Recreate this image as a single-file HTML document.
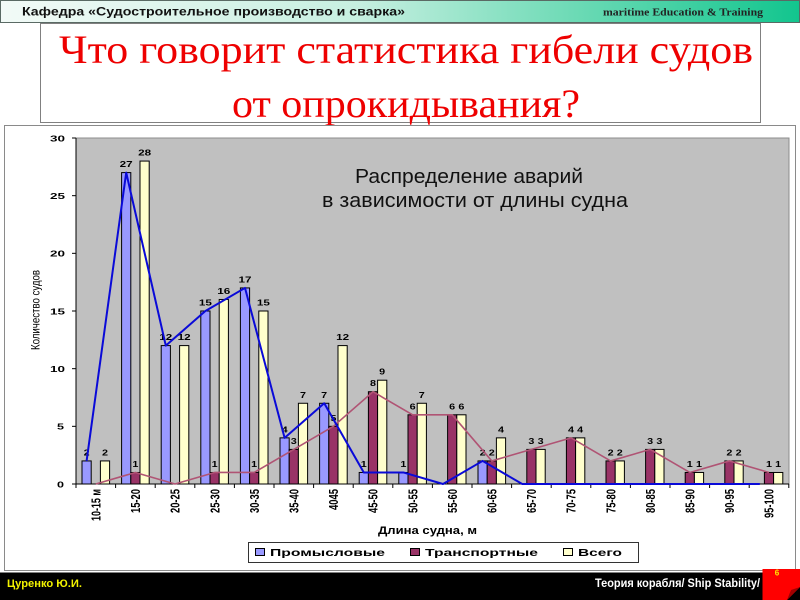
<!DOCTYPE html>
<html>
<head>
<meta charset="utf-8">
<style>
html,body{margin:0;padding:0;background:#fff;}
svg{display:block;}
.sans{font-family:"Liberation Sans","DejaVu Sans",sans-serif;}
.serif{font-family:"Liberation Serif","DejaVu Serif",serif;}
.dl{font-family:"Liberation Sans","DejaVu Sans",sans-serif;font-size:8px;font-weight:bold;fill:#000;}
.xl{font-family:"Liberation Sans","DejaVu Sans",sans-serif;font-size:13px;font-weight:bold;fill:#000;}
.yl{font-family:"Liberation Sans","DejaVu Sans",sans-serif;font-size:8.5px;font-weight:bold;fill:#000;}
</style>
</head>
<body>
<svg width="800" height="600" viewBox="0 0 800 600" xmlns="http://www.w3.org/2000/svg">
<defs>
<linearGradient id="hg" x1="0" y1="0" x2="1" y2="0">
<stop offset="0" stop-color="#f2faf7"/>
<stop offset="0.45" stop-color="#c6efe0"/>
<stop offset="0.72" stop-color="#6cdab5"/>
<stop offset="1" stop-color="#12c58e"/>
</linearGradient>
</defs>
<rect x="0" y="0" width="800" height="600" fill="#fff"/>

<!-- header -->
<rect x="0.5" y="0.5" width="799" height="22" fill="url(#hg)" stroke="#5a6a64" stroke-width="1"/>
<text class="sans" x="22" y="15.5" font-size="11.5" font-weight="bold" fill="#111" textLength="383" lengthAdjust="spacingAndGlyphs">Кафедра «Судостроительное производство и сварка»</text>
<text class="serif" x="603" y="15.5" font-size="11" font-weight="bold" fill="#222" textLength="160" lengthAdjust="spacingAndGlyphs">maritime Education &amp; Training</text>

<!-- title box -->
<rect x="40.5" y="23.5" width="720" height="99" fill="#fff" stroke="#808080" stroke-width="1"/>
<text class="serif" x="59" y="63" font-size="40" fill="#ee0000" textLength="694" lengthAdjust="spacingAndGlyphs">Что говорит статистика гибели судов</text>
<text class="serif" x="232" y="117" font-size="40" fill="#ee0000" textLength="348" lengthAdjust="spacingAndGlyphs">от опрокидывания?</text>

<!-- chart box -->
<rect x="4.5" y="125.5" width="791" height="445" fill="#fff" stroke="#8a8a8a" stroke-width="1"/>

<!-- plot area -->
<rect x="76" y="138" width="713" height="346" fill="#c0c0c0" stroke="#8c8c8c" stroke-width="1"/>

<!-- chart title -->
<text class="sans" x="355" y="183" font-size="20" fill="#111" textLength="228" lengthAdjust="spacingAndGlyphs">Распределение аварий</text>
<text class="sans" x="322" y="207" font-size="20" fill="#111" textLength="306" lengthAdjust="spacingAndGlyphs">в зависимости от длины судна</text>

<!-- blue bars -->
<g fill="#9999ff" stroke="#000" stroke-width="1">
<rect x="82" y="460.93" width="9.2" height="23.07"/>
<rect x="121.6" y="172.6" width="9.2" height="311.4"/>
<rect x="161.2" y="345.6" width="9.2" height="138.4"/>
<rect x="200.8" y="311" width="9.2" height="173"/>
<rect x="240.4" y="287.93" width="9.2" height="196.07"/>
<rect x="280" y="437.87" width="9.2" height="46.13"/>
<rect x="319.6" y="403.27" width="9.2" height="80.73"/>
<rect x="359.2" y="472.47" width="9.2" height="11.53"/>
<rect x="398.8" y="472.47" width="9.2" height="11.53"/>
<rect x="478" y="460.93" width="9.2" height="23.07"/>
</g>
<!-- maroon bars -->
<g fill="#993366" stroke="#000" stroke-width="1">
<rect x="130.8" y="472.47" width="9.2" height="11.53"/>
<rect x="210" y="472.47" width="9.2" height="11.53"/>
<rect x="249.6" y="472.47" width="9.2" height="11.53"/>
<rect x="289.2" y="449.4" width="9.2" height="34.6"/>
<rect x="328.8" y="426.33" width="9.2" height="57.67"/>
<rect x="368.4" y="391.73" width="9.2" height="92.27"/>
<rect x="408" y="414.8" width="9.2" height="69.2"/>
<rect x="447.6" y="414.8" width="9.2" height="69.2"/>
<rect x="487.2" y="460.93" width="9.2" height="23.07"/>
<rect x="526.8" y="449.4" width="9.2" height="34.6"/>
<rect x="566.4" y="437.87" width="9.2" height="46.13"/>
<rect x="606" y="460.93" width="9.2" height="23.07"/>
<rect x="645.6" y="449.4" width="9.2" height="34.6"/>
<rect x="685.2" y="472.47" width="9.2" height="11.53"/>
<rect x="724.8" y="460.93" width="9.2" height="23.07"/>
<rect x="764.4" y="472.47" width="9.2" height="11.53"/>
</g>
<!-- yellow bars -->
<g fill="#ffffcc" stroke="#000" stroke-width="1">
<rect x="100.4" y="460.93" width="9.2" height="23.07"/>
<rect x="140" y="161.07" width="9.2" height="322.93"/>
<rect x="179.6" y="345.6" width="9.2" height="138.4"/>
<rect x="219.2" y="299.47" width="9.2" height="184.53"/>
<rect x="258.8" y="311" width="9.2" height="173"/>
<rect x="298.4" y="403.27" width="9.2" height="80.73"/>
<rect x="338" y="345.6" width="9.2" height="138.4"/>
<rect x="377.6" y="380.2" width="9.2" height="103.8"/>
<rect x="417.2" y="403.27" width="9.2" height="80.73"/>
<rect x="456.8" y="414.8" width="9.2" height="69.2"/>
<rect x="496.4" y="437.87" width="9.2" height="46.13"/>
<rect x="536" y="449.4" width="9.2" height="34.6"/>
<rect x="575.6" y="437.87" width="9.2" height="46.13"/>
<rect x="615.2" y="460.93" width="9.2" height="23.07"/>
<rect x="654.8" y="449.4" width="9.2" height="34.6"/>
<rect x="694.4" y="472.47" width="9.2" height="11.53"/>
<rect x="734" y="460.93" width="9.2" height="23.07"/>
<rect x="773.6" y="472.47" width="9.2" height="11.53"/>
</g>

<!-- axes -->
<g stroke="#000" stroke-width="1" fill="none">
<line x1="76" y1="138" x2="76" y2="484"/>
<line x1="76" y1="484" x2="789" y2="484"/>
<line x1="72" y1="138" x2="76" y2="138"/>
<line x1="72" y1="195.67" x2="76" y2="195.67"/>
<line x1="72" y1="253.33" x2="76" y2="253.33"/>
<line x1="72" y1="311" x2="76" y2="311"/>
<line x1="72" y1="368.67" x2="76" y2="368.67"/>
<line x1="72" y1="426.33" x2="76" y2="426.33"/>
<line x1="72" y1="484" x2="76" y2="484"/>
<line x1="76" y1="484" x2="76" y2="488"/>
<line x1="115.6" y1="484" x2="115.6" y2="488"/>
<line x1="155.2" y1="484" x2="155.2" y2="488"/>
<line x1="194.8" y1="484" x2="194.8" y2="488"/>
<line x1="234.4" y1="484" x2="234.4" y2="488"/>
<line x1="274" y1="484" x2="274" y2="488"/>
<line x1="313.6" y1="484" x2="313.6" y2="488"/>
<line x1="353.2" y1="484" x2="353.2" y2="488"/>
<line x1="392.8" y1="484" x2="392.8" y2="488"/>
<line x1="432.4" y1="484" x2="432.4" y2="488"/>
<line x1="472" y1="484" x2="472" y2="488"/>
<line x1="511.6" y1="484" x2="511.6" y2="488"/>
<line x1="551.2" y1="484" x2="551.2" y2="488"/>
<line x1="590.8" y1="484" x2="590.8" y2="488"/>
<line x1="630.4" y1="484" x2="630.4" y2="488"/>
<line x1="670" y1="484" x2="670" y2="488"/>
<line x1="709.6" y1="484" x2="709.6" y2="488"/>
<line x1="749.2" y1="484" x2="749.2" y2="488"/>
<line x1="788.8" y1="484" x2="788.8" y2="488"/>
</g>

<!-- data labels -->
<g class="dl" text-anchor="middle">
<text x="86.6" y="455.4" textLength="6" lengthAdjust="spacingAndGlyphs">2</text>
<text x="126.2" y="167" textLength="13" lengthAdjust="spacingAndGlyphs">27</text>
<text x="165.8" y="340.1" textLength="13" lengthAdjust="spacingAndGlyphs">12</text>
<text x="205.4" y="305.5" textLength="13" lengthAdjust="spacingAndGlyphs">15</text>
<text x="245" y="282.4" textLength="13" lengthAdjust="spacingAndGlyphs">17</text>
<text x="284.6" y="432.4" textLength="6" lengthAdjust="spacingAndGlyphs">4</text>
<text x="324.2" y="397.8" textLength="6" lengthAdjust="spacingAndGlyphs">7</text>
<text x="363.8" y="467" textLength="6" lengthAdjust="spacingAndGlyphs">1</text>
<text x="403.4" y="467" textLength="6" lengthAdjust="spacingAndGlyphs">1</text>
<text x="482.6" y="455.4" textLength="6" lengthAdjust="spacingAndGlyphs">2</text>

<text x="135.4" y="467" textLength="6" lengthAdjust="spacingAndGlyphs">1</text>
<text x="214.6" y="467" textLength="6" lengthAdjust="spacingAndGlyphs">1</text>
<text x="254.2" y="467" textLength="6" lengthAdjust="spacingAndGlyphs">1</text>
<text x="293.8" y="443.9" textLength="6" lengthAdjust="spacingAndGlyphs">3</text>
<text x="333.4" y="420.8" textLength="6" lengthAdjust="spacingAndGlyphs">5</text>
<text x="373" y="386.2" textLength="6" lengthAdjust="spacingAndGlyphs">8</text>
<text x="412.6" y="409.3" textLength="6" lengthAdjust="spacingAndGlyphs">6</text>
<text x="452.2" y="409.3" textLength="6" lengthAdjust="spacingAndGlyphs">6</text>
<text x="491.8" y="455.4" textLength="6" lengthAdjust="spacingAndGlyphs">2</text>
<text x="531.4" y="443.9" textLength="6" lengthAdjust="spacingAndGlyphs">3</text>
<text x="571" y="432.4" textLength="6" lengthAdjust="spacingAndGlyphs">4</text>
<text x="610.6" y="455.4" textLength="6" lengthAdjust="spacingAndGlyphs">2</text>
<text x="650.2" y="443.9" textLength="6" lengthAdjust="spacingAndGlyphs">3</text>
<text x="689.8" y="467" textLength="6" lengthAdjust="spacingAndGlyphs">1</text>
<text x="729.4" y="455.4" textLength="6" lengthAdjust="spacingAndGlyphs">2</text>
<text x="769" y="467" textLength="6" lengthAdjust="spacingAndGlyphs">1</text>

<text x="105" y="455.4" textLength="6" lengthAdjust="spacingAndGlyphs">2</text>
<text x="144.6" y="155.6" textLength="13" lengthAdjust="spacingAndGlyphs">28</text>
<text x="184.2" y="340.1" textLength="13" lengthAdjust="spacingAndGlyphs">12</text>
<text x="223.8" y="294" textLength="13" lengthAdjust="spacingAndGlyphs">16</text>
<text x="263.4" y="305.5" textLength="13" lengthAdjust="spacingAndGlyphs">15</text>
<text x="303" y="397.8" textLength="6" lengthAdjust="spacingAndGlyphs">7</text>
<text x="342.6" y="340.1" textLength="13" lengthAdjust="spacingAndGlyphs">12</text>
<text x="382.2" y="374.7" textLength="6" lengthAdjust="spacingAndGlyphs">9</text>
<text x="421.8" y="397.8" textLength="6" lengthAdjust="spacingAndGlyphs">7</text>
<text x="461.4" y="409.3" textLength="6" lengthAdjust="spacingAndGlyphs">6</text>
<text x="501" y="432.4" textLength="6" lengthAdjust="spacingAndGlyphs">4</text>
<text x="540.6" y="443.9" textLength="6" lengthAdjust="spacingAndGlyphs">3</text>
<text x="580.2" y="432.4" textLength="6" lengthAdjust="spacingAndGlyphs">4</text>
<text x="619.8" y="455.4" textLength="6" lengthAdjust="spacingAndGlyphs">2</text>
<text x="659.4" y="443.9" textLength="6" lengthAdjust="spacingAndGlyphs">3</text>
<text x="699" y="467" textLength="6" lengthAdjust="spacingAndGlyphs">1</text>
<text x="738.6" y="455.4" textLength="6" lengthAdjust="spacingAndGlyphs">2</text>
<text x="778.2" y="467" textLength="6" lengthAdjust="spacingAndGlyphs">1</text>
</g>

<!-- lines -->
<polyline fill="none" stroke="#b05474" stroke-width="1.6" stroke-linejoin="round" points="95.8,484 135.4,472.47 175,484 214.6,472.47 254.2,472.47 293.8,449.4 333.4,426.33 373,391.73 412.6,414.8 452.2,414.8 491.8,460.93 531.4,449.4 571,437.87 610.6,460.93 650.2,449.4 689.8,472.47 729.4,460.93 769,472.47"/>
<polyline fill="none" stroke="#0a0ad8" stroke-width="2" stroke-linejoin="round" points="86.6,460.93 126.2,172.6 165.8,345.6 205.4,311 245,287.93 284.6,437.87 324.2,403.27 363.8,472.47 403.4,472.47 443,484 482.6,460.93 522.2,484 561.8,484 601.4,484 641,484 680.6,484 720.2,484 759.8,484"/>

<!-- y tick labels -->
<g class="yl" text-anchor="end">
<text x="65" y="141.5" textLength="15" lengthAdjust="spacingAndGlyphs">30</text>
<text x="65" y="199" textLength="15" lengthAdjust="spacingAndGlyphs">25</text>
<text x="65" y="256.7" textLength="15" lengthAdjust="spacingAndGlyphs">20</text>
<text x="65" y="314.3" textLength="15" lengthAdjust="spacingAndGlyphs">15</text>
<text x="65" y="372" textLength="15" lengthAdjust="spacingAndGlyphs">10</text>
<text x="64" y="429.7" textLength="7" lengthAdjust="spacingAndGlyphs">5</text>
<text x="64" y="487.3" textLength="7" lengthAdjust="spacingAndGlyphs">0</text>
</g>

<!-- y axis title -->
<text class="sans" transform="translate(39.5,310) rotate(-90)" x="0" y="0" text-anchor="middle" font-size="12" fill="#000" textLength="80" lengthAdjust="spacingAndGlyphs">Количество судов</text>

<!-- x labels -->
<g class="xl" text-anchor="end">
<text transform="translate(100.5,489) rotate(-90)" textLength="32" lengthAdjust="spacingAndGlyphs">10-15 м</text>
<text transform="translate(140.1,489) rotate(-90)" textLength="24" lengthAdjust="spacingAndGlyphs">15-20</text>
<text transform="translate(179.7,489) rotate(-90)" textLength="24" lengthAdjust="spacingAndGlyphs">20-25</text>
<text transform="translate(219.3,489) rotate(-90)" textLength="24" lengthAdjust="spacingAndGlyphs">25-30</text>
<text transform="translate(258.9,489) rotate(-90)" textLength="24" lengthAdjust="spacingAndGlyphs">30-35</text>
<text transform="translate(298.5,489) rotate(-90)" textLength="24" lengthAdjust="spacingAndGlyphs">35-40</text>
<text transform="translate(338.1,489) rotate(-90)" textLength="21" lengthAdjust="spacingAndGlyphs">4045</text>
<text transform="translate(377.7,489) rotate(-90)" textLength="24" lengthAdjust="spacingAndGlyphs">45-50</text>
<text transform="translate(417.3,489) rotate(-90)" textLength="24" lengthAdjust="spacingAndGlyphs">50-55</text>
<text transform="translate(456.9,489) rotate(-90)" textLength="24" lengthAdjust="spacingAndGlyphs">55-60</text>
<text transform="translate(496.5,489) rotate(-90)" textLength="24" lengthAdjust="spacingAndGlyphs">60-65</text>
<text transform="translate(536.1,489) rotate(-90)" textLength="24" lengthAdjust="spacingAndGlyphs">65-70</text>
<text transform="translate(575.7,489) rotate(-90)" textLength="24" lengthAdjust="spacingAndGlyphs">70-75</text>
<text transform="translate(615.3,489) rotate(-90)" textLength="24" lengthAdjust="spacingAndGlyphs">75-80</text>
<text transform="translate(654.9,489) rotate(-90)" textLength="24" lengthAdjust="spacingAndGlyphs">80-85</text>
<text transform="translate(694.5,489) rotate(-90)" textLength="24" lengthAdjust="spacingAndGlyphs">85-90</text>
<text transform="translate(734.1,489) rotate(-90)" textLength="24" lengthAdjust="spacingAndGlyphs">90-95</text>
<text transform="translate(773.7,489) rotate(-90)" textLength="29" lengthAdjust="spacingAndGlyphs">95-100</text>
</g>

<!-- x axis title -->
<text class="sans" x="378" y="534" font-size="11" font-weight="bold" fill="#000" textLength="99" lengthAdjust="spacingAndGlyphs">Длина судна, м</text>

<!-- legend -->
<rect x="248.5" y="542.5" width="390" height="20" fill="#fff" stroke="#333" stroke-width="1"/>
<rect x="255.5" y="548.5" width="9" height="7" fill="#9999ff" stroke="#000" stroke-width="1"/>
<text class="sans" x="270" y="556" font-size="10.5" font-weight="bold" fill="#000" textLength="115" lengthAdjust="spacingAndGlyphs">Промысловые</text>
<rect x="410.5" y="548.5" width="9" height="7" fill="#993366" stroke="#000" stroke-width="1"/>
<text class="sans" x="425" y="556" font-size="10.5" font-weight="bold" fill="#000" textLength="113" lengthAdjust="spacingAndGlyphs">Транспортные</text>
<rect x="563.5" y="548.5" width="9" height="7" fill="#ffffcc" stroke="#000" stroke-width="1"/>
<text class="sans" x="578" y="556" font-size="10.5" font-weight="bold" fill="#000" textLength="44" lengthAdjust="spacingAndGlyphs">Всего</text>

<!-- footer -->
<rect x="0" y="572.5" width="800" height="27.5" fill="#000"/>
<text class="sans" x="7" y="587" font-size="11" font-weight="bold" fill="#f2f200" textLength="75" lengthAdjust="spacingAndGlyphs">Цуренко Ю.И.</text>
<text class="sans" x="595" y="587" font-size="11.5" font-weight="bold" fill="#fff" textLength="165" lengthAdjust="spacingAndGlyphs">Теория корабля/ Ship Stability/</text>
<rect x="762.5" y="569" width="37.5" height="31" fill="#ff0000"/>
<polygon points="787,600 800,600 800,587" fill="#000"/>
<polygon points="787,600 800,587 791,590" fill="#a00000"/>
<text class="sans" x="777" y="575.5" font-size="8" font-weight="bold" fill="#ffee00" text-anchor="middle">6</text>
</svg>
</body>
</html>
